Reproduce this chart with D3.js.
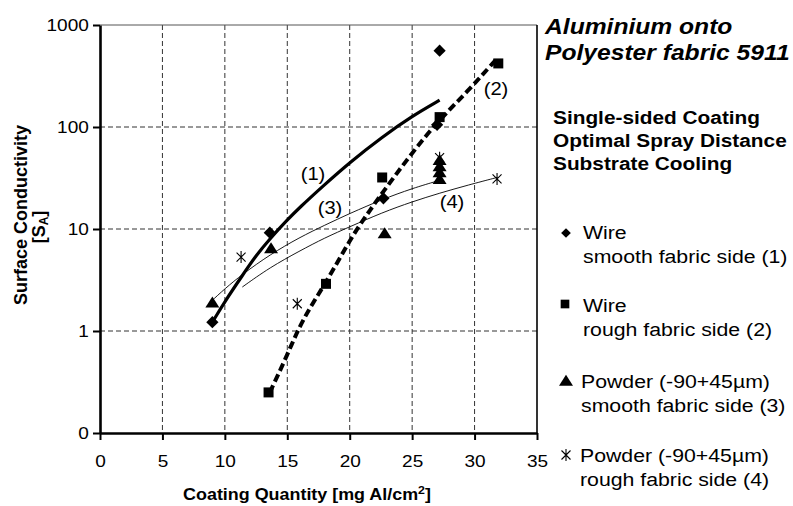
<!DOCTYPE html>
<html>
<head>
<meta charset="utf-8">
<script src="https://cdn.jsdelivr.net/npm/d3@7"></script>
<style>
  body { margin: 0; background: #fff; }
  text { font-family: "Liberation Sans", Arial, sans-serif; fill: #000; }
</style>
</head>
<body>
<svg width="793" height="506"></svg>
<script>
  var svg = d3.select("svg");
  var stretch = 1.12; // the scan is a little wider than the font metrics

  // data: [coating quantity, conductivity]
  var xTicks = [0, 5, 10, 15, 20, 25, 30, 35];
  var yTicks = [0.1, 1, 10, 100, 1000];
  var yTickLabels = ["0", "1", "10", "100", "1000"];

  var wireSmooth = [[9, 1.22], [13.6, 9.2], [22.7, 20], [27.0, 105], [27.2, 560]];
  var wireRough = [[13.5, 0.25], [18.1, 2.9], [22.6, 32], [27.2, 125], [31.9, 420]];
  var powderSmooth = [[9, 1.85], [13.7, 6.3], [22.8, 8.8], [27.2, 30], [27.2, 35], [27.2, 40], [27.2, 46]];
  var powderRough = [[11.3, 5.3], [15.8, 1.85], [27.2, 50], [31.8, 31]];

  // trend curves
  var trend1 = [[9, 1.22], [10, 1.95], [11.4, 3.5], [12.5, 5.5], [13.6, 8.0], [15, 12.3], [16, 16.3], [17.8, 26], [20, 45], [22.6, 80], [25, 128], [27.2, 183]];
  var trend2 = [[13.6, 0.25], [15, 0.58], [16.2, 1.3], [18.2, 3.1], [20, 7.8], [21.4, 14], [22.6, 22.5], [24.8, 52], [27, 112], [29.4, 220], [31.8, 470]];
  var trend3 = [[8.8, 1.9], [10, 2.6], [11.4, 3.6], [13.6, 5.6], [16, 8.3], [18, 10.9], [20, 14.2], [22.6, 19.5], [25, 25], [27.2, 30]];
  var trend4 = [[11.4, 2.7], [13.6, 4.2], [16, 6.1], [18, 8.2], [20, 10.5], [22.6, 14.5], [25, 18.5], [27.2, 22.5], [29.5, 27], [31.8, 32]];

  var x = d3.scaleLinear().domain([0, 35]).range([100, 537]);
  var y = d3.scaleLog().domain([0.1, 1000]).range([433, 25]);

  function txt(px, py, s, size, weight, style, anchor) {
    return svg.append("text")
      .attr("transform", "translate(" + px + "," + py + ") scale(" + stretch + ",1)")
      .attr("font-size", size)
      .attr("font-weight", weight || "normal")
      .attr("font-style", style || "normal")
      .attr("text-anchor", anchor || "start")
      .text(s);
  }

  // grid
  svg.append("g").selectAll("line").data(xTicks.slice(1, -1)).join("line")
    .attr("x1", d => x(d)).attr("x2", d => x(d))
    .attr("y1", y(1000)).attr("y2", y(0.1))
    .attr("stroke", "#333").attr("stroke-width", 1).attr("stroke-dasharray", "5,3");
  svg.append("g").selectAll("line").data([1, 10, 100]).join("line")
    .attr("x1", x(0)).attr("x2", x(35))
    .attr("y1", d => y(d)).attr("y2", d => y(d))
    .attr("stroke", "#333").attr("stroke-width", 1).attr("stroke-dasharray", "5,3");

  // frame top and right
  svg.append("line").attr("x1", x(0)).attr("x2", x(35)).attr("y1", y(1000)).attr("y2", y(1000))
    .attr("stroke", "#555").attr("stroke-width", 1);
  svg.append("line").attr("x1", x(35)).attr("x2", x(35)).attr("y1", y(1000)).attr("y2", y(0.1))
    .attr("stroke", "#000").attr("stroke-width", 1.6);

  // axes
  var yAxis = svg.append("g").attr("transform", "translate(" + x(0) + ",0)")
    .call(d3.axisLeft(y).tickValues(yTicks).tickSize(7).tickSizeOuter(0).tickPadding(3)
      .tickFormat((d, i) => yTickLabels[i]));
  var xAxis = svg.append("g").attr("transform", "translate(0," + y(0.1) + ")")
    .call(d3.axisBottom(x).tickValues(xTicks).tickSize(7).tickSizeOuter(0).tickPadding(15));

  [yAxis, xAxis].forEach(function (a) {
    a.select(".domain").attr("stroke", "#000").attr("stroke-width", 2.6);
    a.selectAll(".tick line").attr("stroke", "#000").attr("stroke-width", 2);
    a.selectAll(".tick text").attr("font-size", 17)
      .attr("font-family", "Liberation Sans, Arial, sans-serif")
      .attr("transform", "scale(" + stretch + ",1)");
  });

  // trend lines
  var line = d3.line().x(d => x(d[0])).y(d => y(d[1])).curve(d3.curveBasis);
  svg.append("path").attr("d", line(trend3)).attr("fill", "none").attr("stroke", "#000").attr("stroke-width", 0.9);
  svg.append("path").attr("d", line(trend4)).attr("fill", "none").attr("stroke", "#000").attr("stroke-width", 0.9);
  svg.append("path").attr("d", line(trend1)).attr("fill", "none").attr("stroke", "#000").attr("stroke-width", 3.2);
  svg.append("path").attr("d", line(trend2)).attr("fill", "none").attr("stroke", "#000")
    .attr("stroke-width", 4).attr("stroke-dasharray", "8,4");

  // markers
  var diamond = d3.symbol().type(d3.symbolDiamond2).size(95);
  var square = d3.symbol().type(d3.symbolSquare).size(100);
  var triangle = d3.symbol().type(d3.symbolTriangle).size(70);
  function star(s) {
    var h = s / 2, k = h * 0.75;
    return "M" + (-k) + "," + (-k) + "L" + k + "," + k + "M" + (-k) + "," + k + "L" + k + "," + (-k) +
      "M0," + (-h) + "L0," + h;
  }

  svg.append("g").selectAll("path").data(wireSmooth).join("path")
    .attr("transform", d => "translate(" + x(d[0]) + "," + y(d[1]) + ")")
    .attr("d", diamond).attr("fill", "#000");
  svg.append("g").selectAll("path").data(wireRough).join("path")
    .attr("transform", d => "translate(" + x(d[0]) + "," + y(d[1]) + ")")
    .attr("d", square).attr("fill", "#000");
  svg.append("g").selectAll("path").data(powderSmooth).join("path")
    .attr("transform", d => "translate(" + x(d[0]) + "," + y(d[1]) + ") scale(1.1,1)")
    .attr("d", triangle).attr("fill", "#000");
  svg.append("g").selectAll("path").data(powderRough).join("path")
    .attr("transform", d => "translate(" + x(d[0]) + "," + y(d[1]) + ")")
    .attr("d", star(12)).attr("fill", "none").attr("stroke", "#000").attr("stroke-width", 1.1);

  // curve labels
  txt(313, 180, "(1)", 18, "normal", "normal", "middle");
  txt(496, 95, "(2)", 18, "normal", "normal", "middle");
  txt(330, 214, "(3)", 18, "normal", "normal", "middle");
  txt(452, 208, "(4)", 18, "normal", "normal", "middle");

  // axis titles
  var xt = txt(307, 500, "Coating Quantity [mg Al/cm", 16, "bold", "normal", "middle");
  xt.append("tspan").attr("font-size", 11).attr("dy", -6).text("2");
  xt.append("tspan").attr("dy", 6).text("]");

  svg.append("text").attr("transform", "translate(27,215) rotate(-90)")
    .attr("font-size", 18).attr("font-weight", "bold").attr("text-anchor", "middle")
    .text("Surface Conductivity");
  var ys = svg.append("text").attr("transform", "translate(45,227) rotate(-90)")
    .attr("font-size", 18).attr("font-weight", "bold").attr("text-anchor", "middle");
  ys.append("tspan").text("[S");
  ys.append("tspan").attr("font-size", 12).attr("dy", 3).text("A");
  ys.append("tspan").attr("dy", -3).text("]");

  // titles on the right
  txt(545, 34, "Aluminium onto", 22, "bold", "italic");
  txt(545, 60, "Polyester fabric 5911", 22, "bold", "italic");
  txt(553, 124, "Single-sided Coating", 18.6, "bold");
  txt(553, 147, "Optimal Spray Distance", 18.6, "bold");
  txt(553, 170, "Substrate Cooling", 18.6, "bold");

  // legend
  var legendLines = [
    ["Wire", "smooth fabric side (1)"],
    ["Wire", "rough fabric side (2)"],
    ["Powder (-90+45\u00b5m)", "smooth fabric side (3)"],
    ["Powder (-90+45\u00b5m)", "rough fabric side (4)"]
  ];
  var legendY = [239, 312, 388, 462];
  var legendX = [583, 583, 581, 580];

  svg.append("path").attr("transform", "translate(566,233)").attr("d", d3.symbol().type(d3.symbolDiamond2).size(60)).attr("fill", "#000");
  svg.append("path").attr("transform", "translate(565,304)").attr("d", d3.symbol().type(d3.symbolSquare).size(75)).attr("fill", "#000");
  svg.append("path").attr("transform", "translate(566,382) scale(1.1,1)").attr("d", d3.symbol().type(d3.symbolTriangle).size(70)).attr("fill", "#000");
  svg.append("path").attr("transform", "translate(566,455)").attr("d", star(12)).attr("fill", "none").attr("stroke", "#000").attr("stroke-width", 1.1);

  legendLines.forEach(function (l, i) {
    txt(legendX[i], legendY[i], l[0], 19);
    txt(legendX[i], legendY[i] + 24, l[1], 19);
  });
</script>
</body>
</html>
